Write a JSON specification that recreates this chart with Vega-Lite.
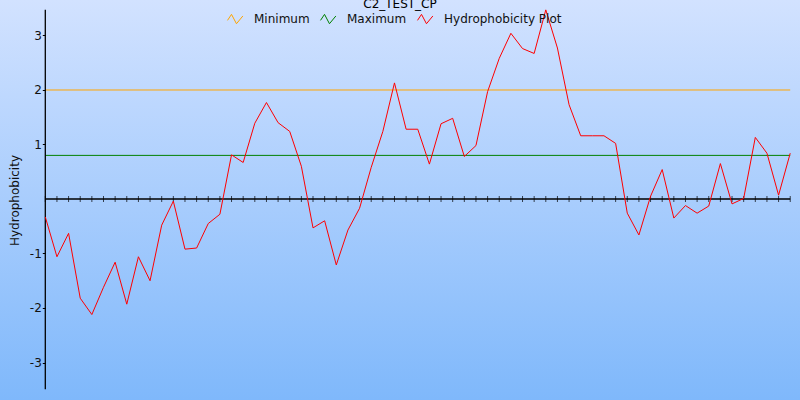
{
  "$schema": "https://vega.github.io/schema/vega-lite/v6.json",
  "width": 800,
  "height": 400,
  "autosize": {"type": "none"},
  "padding": 0,
  "background": "#a8ccfe",
  "config": {
    "view": {"stroke": null},
    "font": "DejaVu Sans",
    "axisY": {
      "domain": false,
      "grid": false,
      "ticks": true,
      "tickSize": 3,
      "tickColor": "#000000",
      "labelFontSize": 12,
      "labelFont": "DejaVu Sans",
      "labelColor": "#111111",
      "labelPadding": 1,
      "labelExpr": "toString(datum.value)",
      "titleFont": "DejaVu Sans",
      "titleFontSize": 12,
      "titleFontWeight": "normal",
      "titleColor": "#111111",
      "titlePadding": 8
    },
    "legend": {
      "orient": "none",
      "legendX": 227,
      "legendY": 10,
      "direction": "horizontal",
      "title": null,
      "labelFontSize": 12,
      "labelColor": "#111111",
      "labelFont": "DejaVu Sans",
      "symbolType": "M-1,0.2L-0.5,-0.55L0.12,0.62L0.92,-0.35",
      "symbolSize": 256,
      "symbolStrokeWidth": 1,
      "symbolFillColor": "transparent",
      "labelOffset": 10,
      "columnPadding": 8,
      "padding": 0
    }
  },
  "title": {
    "text": "C2_TEST_CP",
    "anchor": "middle",
    "frame": "group",
    "offset": -10,
    "dy": 10,
    "baseline": "alphabetic",
    "fontSize": 12,
    "fontWeight": "normal",
    "font": "DejaVu Sans",
    "color": "#000000"
  },
  "datasets": {
    "refs": [
      {"series": "Minimum", "value": 2.0},
      {"series": "Maximum", "value": 0.8}
    ],
    "plot": [
      {"pos": 1, "h": -0.33}, {"pos": 2, "h": -1.06}, {"pos": 3, "h": -0.63}, {"pos": 4, "h": -1.82},
      {"pos": 5, "h": -2.12}, {"pos": 6, "h": -1.62}, {"pos": 7, "h": -1.16}, {"pos": 8, "h": -1.93},
      {"pos": 9, "h": -1.06}, {"pos": 10, "h": -1.50}, {"pos": 11, "h": -0.48}, {"pos": 12, "h": -0.04},
      {"pos": 13, "h": -0.92}, {"pos": 14, "h": -0.90}, {"pos": 15, "h": -0.45}, {"pos": 16, "h": -0.28},
      {"pos": 17, "h": 0.81}, {"pos": 18, "h": 0.67}, {"pos": 19, "h": 1.39}, {"pos": 20, "h": 1.77},
      {"pos": 21, "h": 1.40}, {"pos": 22, "h": 1.24}, {"pos": 23, "h": 0.60}, {"pos": 24, "h": -0.53},
      {"pos": 25, "h": -0.40}, {"pos": 26, "h": -1.21}, {"pos": 27, "h": -0.57}, {"pos": 28, "h": -0.17},
      {"pos": 29, "h": 0.58}, {"pos": 30, "h": 1.24}, {"pos": 31, "h": 2.13}, {"pos": 32, "h": 1.28},
      {"pos": 33, "h": 1.28}, {"pos": 34, "h": 0.64}, {"pos": 35, "h": 1.38}, {"pos": 36, "h": 1.48},
      {"pos": 37, "h": 0.78}, {"pos": 38, "h": 0.98}, {"pos": 39, "h": 1.97}, {"pos": 40, "h": 2.58},
      {"pos": 41, "h": 3.04}, {"pos": 42, "h": 2.76}, {"pos": 43, "h": 2.67}, {"pos": 44, "h": 3.47},
      {"pos": 45, "h": 2.77}, {"pos": 46, "h": 1.73}, {"pos": 47, "h": 1.16}, {"pos": 48, "h": 1.16},
      {"pos": 49, "h": 1.16}, {"pos": 50, "h": 1.02}, {"pos": 51, "h": -0.26}, {"pos": 52, "h": -0.66},
      {"pos": 53, "h": 0.05}, {"pos": 54, "h": 0.54}, {"pos": 55, "h": -0.35}, {"pos": 56, "h": -0.12},
      {"pos": 57, "h": -0.26}, {"pos": 58, "h": -0.13}, {"pos": 59, "h": 0.65}, {"pos": 60, "h": -0.09},
      {"pos": 61, "h": 0.01}, {"pos": 62, "h": 1.13}, {"pos": 63, "h": 0.84}, {"pos": 64, "h": 0.07},
      {"pos": 65, "h": 0.84}
    ],
    "one": [{"k": 1}]
  },
  "layer": [
    {
      "data": {"name": "one"},
      "mark": {
        "type": "rect",
        "color": {
          "gradient": "linear",
          "x1": 0, "y1": 0, "x2": 0, "y2": 1,
          "stops": [
            {"offset": 0, "color": "#d2e2ff"},
            {"offset": 1, "color": "#7fb8fb"}
          ]
        }
      },
      "encoding": {}
    },
    {
      "data": {"name": "refs"},
      "mark": {"type": "rule", "strokeWidth": 1},
      "encoding": {
        "y": {
          "field": "value",
          "type": "quantitative",
          "scale": {"domain": [-3.688, 3.651], "nice": false, "zero": false},
          "axis": {"values": [-3, -2, -1, 1, 2, 3], "title": "Hydrophobicity", "offset": -45.3, "zindex": 2}
        },
        "x": {"datum": 1, "type": "quantitative", "scale": {"domain": [-2.892, 65.84], "nice": false, "zero": false}, "axis": null},
        "x2": {"datum": 65},
        "color": {
          "field": "series",
          "type": "nominal",
          "scale": {"domain": ["Minimum", "Maximum", "Hydrophobicity Plot"], "range": ["#FFA500", "#008000", "#FF0000"]}
        }
      }
    },
    {
      "data": {"name": "one"},
      "mark": {"type": "rule", "color": "#000000", "strokeWidth": 1.3},
      "encoding": {
        "y": {"datum": 0, "type": "quantitative", "axis": {"values": [-3, -2, -1, 1, 2, 3], "title": "Hydrophobicity", "offset": -45.3, "zindex": 2}},
        "x": {"datum": 1, "type": "quantitative", "axis": null},
        "x2": {"datum": 65}
      }
    },
    {
      "data": {"name": "one"},
      "mark": {"type": "rule", "color": "#000000", "strokeWidth": 1.3},
      "encoding": {
        "x": {"datum": 1, "type": "quantitative", "axis": null},
        "y": {"datum": -3.49, "type": "quantitative", "axis": {"values": [-3, -2, -1, 1, 2, 3], "title": "Hydrophobicity", "offset": -45.3, "zindex": 2}},
        "y2": {"datum": 3.47}
      }
    },
    {
      "data": {"name": "plot"},
      "mark": {"type": "tick", "orient": "vertical", "size": 6, "thickness": 1, "color": "#000000"},
      "encoding": {
        "x": {"field": "pos", "type": "quantitative", "axis": null},
        "y": {"datum": 0, "type": "quantitative", "axis": {"values": [-3, -2, -1, 1, 2, 3], "title": "Hydrophobicity", "offset": -45.3, "zindex": 2}}
      }
    },
    {
      "data": {"name": "plot"},
      "mark": {"type": "line", "strokeWidth": 1},
      "encoding": {
        "x": {"field": "pos", "type": "quantitative", "scale": {"domain": [-2.892, 65.84], "nice": false, "zero": false}, "axis": null},
        "y": {
          "field": "h",
          "type": "quantitative",
          "scale": {"domain": [-3.688, 3.651], "nice": false, "zero": false},
          "axis": {"values": [-3, -2, -1, 1, 2, 3], "title": "Hydrophobicity", "offset": -45.3, "zindex": 2}
        },
        "color": {"datum": "Hydrophobicity Plot", "type": "nominal"}
      }
    }
  ]
}
